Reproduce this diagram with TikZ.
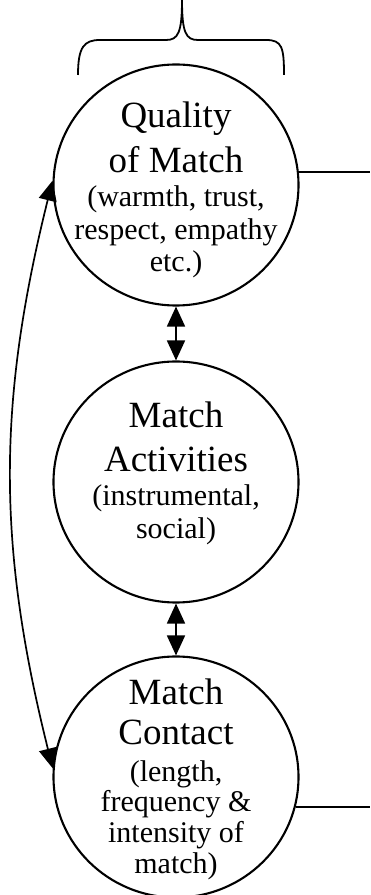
\documentclass[tikz,border=0pt]{standalone}
\usepackage{fontspec}
\setmainfont{Liberation Serif}
\usetikzlibrary{arrows.meta, shapes.geometric, positioning}

\tikzset{
  bubble/.style={draw, ellipse, line width=2.1pt, minimum width=245pt, minimum height=241pt, inner sep=0pt},
  bigtxt/.style={anchor=base, inner sep=0pt, font=\fontsize{37}{42}\selectfont},
  smalltxt/.style={anchor=base, inner sep=0pt, font=\fontsize{30}{33}\selectfont},
  twoway/.style={{Triangle[length=20pt,width=18pt]}-{Triangle[length=20pt,width=18pt]}, line width=1.7pt},
}

\begin{document}
\begin{tikzpicture}[x=1pt,y=1pt]

        \useasboundingbox (0,0) rectangle (370,895);

        % the three circles
        \node[bubble] (c1) at (176,710) {};
        \node[bubble] (c2) at (176,413) {};
        \node[bubble] (c3) at (176,118) {};

        % brace over the top circle
        \draw[line width=1.8pt] (78,820) .. controls (78,848) and (84,855) .. (100,855) -- (166,855)
              .. controls (178,855) and (182,862) .. (182,895);
        \draw[line width=1.8pt] (182,895) .. controls (182,862) and (186,855) .. (198,855) -- (266,855)
              .. controls (282,855) and (284,848) .. (284,820);

        % texts of circle 1
        \node[bigtxt] (q1) at (176,767) {Quality};
        \node[bigtxt] (q2) at (176,722) {of Match};
        \node[smalltxt] (q3) at (176,688) {(warmth, trust,};
        \node[smalltxt] (q4) at (176,655) {respect, empathy};
        \node[smalltxt] (q5) at (176,623) {etc.)};

        % texts of circle 2
        \node[bigtxt] (a1) at (176,467) {Match};
        \node[bigtxt] (a2) at (176,423) {Activities};
        \node[smalltxt] (a3) at (176,389) {(instrumental,};
        \node[smalltxt] (a4) at (176,356) {social)};

        % texts of circle 3
        \node[bigtxt] (m1) at (176,190) {Match};
        \node[bigtxt] (m2) at (176,150) {Contact};
        \node[smalltxt] (m3) at (176,113) {(length,};
        \node[smalltxt] (m4) at (176,83) {frequency \&};
        \node[smalltxt] (m5) at (176,52) {intensity of};
        \node[smalltxt] (m6) at (176,21) {match)};

        % arrows between circles
        \draw[twoway] (c1.south) -- (c2.north);
        \draw[twoway] (c2.south) -- (c3.north);
        \draw[twoway] (c3.176) to[bend left=14] (c1.178);

        % lines out to the right
        \coordinate (edge) at (370,0);
        \draw[line width=2pt] (c1.6) -- (c1.6 -| edge);
        \draw[line width=2pt] (c3.-14) -- (c3.-14 -| edge);

\end{tikzpicture}
\end{document}
